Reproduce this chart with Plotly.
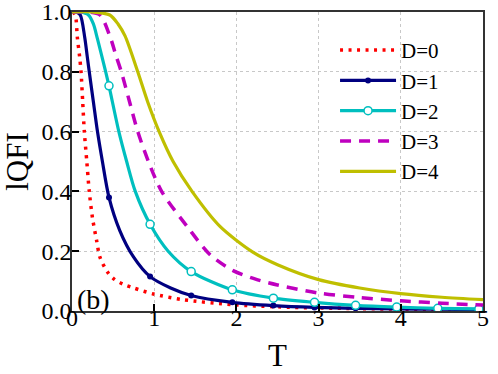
import plotly.graph_objects as go

# ---- data ----
d0_T = [0.01, 0.04, 0.065, 0.093, 0.11, 0.13, 0.15, 0.18, 0.21, 0.25, 0.30, 0.34, 0.44, 0.52, 0.62, 0.75, 0.99, 1.35, 1.96, 2.5, 3.0, 3.5, 4.0, 4.5, 5.0]
d0_v = [1.0, 0.99, 0.915, 0.85, 0.80, 0.70, 0.60, 0.50, 0.40, 0.31, 0.235, 0.18, 0.127, 0.105, 0.09, 0.077, 0.057, 0.038, 0.021, 0.014, 0.010, 0.008, 0.006, 0.005, 0.004]

d1_T = [0.0, 0.05, 0.10, 0.155, 0.186, 0.21, 0.26, 0.31, 0.37, 0.45, 0.58, 0.75, 0.95, 1.2, 1.45, 1.95, 2.45, 2.95, 3.45, 3.95, 4.45, 4.95, 5.0]
d1_v = [1.0, 1.0, 0.99, 0.915, 0.85, 0.80, 0.70, 0.60, 0.50, 0.38, 0.27, 0.18, 0.115, 0.077, 0.052, 0.029, 0.018, 0.012, 0.009, 0.007, 0.006, 0.005, 0.005]

d2_T = [0.0, 0.10, 0.20, 0.26, 0.31, 0.41, 0.45, 0.57, 0.665, 0.77, 0.95, 1.17, 1.45, 1.95, 2.45, 2.95, 3.45, 3.95, 4.45, 4.95, 5.0]
d2_v = [1.0, 1.0, 0.99, 0.96, 0.91, 0.80, 0.753, 0.60, 0.50, 0.40, 0.29, 0.20, 0.132, 0.071, 0.043, 0.029, 0.019, 0.013, 0.009, 0.007, 0.007]

d3_T = [0.0, 0.20, 0.34, 0.46, 0.54, 0.60, 0.70, 0.80, 0.93, 1.09, 1.40, 1.68, 1.96, 2.25, 2.5, 3.0, 3.5, 4.0, 4.5, 5.0]
d3_v = [1.0, 1.0, 0.99, 0.92, 0.85, 0.80, 0.70, 0.60, 0.50, 0.40, 0.283, 0.188, 0.135, 0.105, 0.087, 0.06, 0.045, 0.034, 0.026, 0.02]

d4_T = [0.0, 0.25, 0.46, 0.56, 0.645, 0.80, 0.92, 1.06, 1.23, 1.46, 1.80, 2.2, 2.5, 3.0, 3.5, 4.0, 4.5, 5.0]
d4_v = [1.0, 1.0, 0.99, 0.96, 0.92, 0.80, 0.70, 0.60, 0.50, 0.40, 0.283, 0.197, 0.155, 0.105, 0.077, 0.058, 0.046, 0.038]

marker_T = [0.45, 0.95, 1.45, 1.95, 2.45, 2.95, 3.45, 3.95, 4.45, 4.95]

labels = ["D=0", "D=1", "D=2", "D=3", "D=4"]
x_ticks = [0, 1, 2, 3, 4, 5]
y_ticks = [0.0, 0.2, 0.4, 0.6, 0.8, 1.0]

FONT = "Liberation Serif"
C_RED, C_NAVY, C_CYAN, C_MAG, C_OLIVE = "#ff0000", "#000080", "#00bfbf", "#bf00bf", "#bfbf00"
fig = go.Figure()

def pick(T, v):
    xs, ys = [], []
    for t, val in zip(T, v):
        if any(abs(t - m) < 1e-9 for m in marker_T):
            xs.append(t); ys.append(val)
    return xs, ys

# D=0
fig.add_trace(go.Scatter(x=d0_T, y=d0_v, mode="lines", name=labels[0],
                         line=dict(color=C_RED, width=3.5, dash="3px,5.5px", shape="spline", smoothing=0.8)))
# D=1
fig.add_trace(go.Scatter(x=d1_T, y=d1_v, mode="lines", showlegend=False,
                         line=dict(color=C_NAVY, width=3.2, shape="spline", smoothing=0.8)))
mx, my = pick(d1_T, d1_v)
fig.add_trace(go.Scatter(x=mx, y=my, mode="markers", showlegend=False,
                         marker=dict(color=C_NAVY, size=6)))
fig.add_trace(go.Scatter(x=[None], y=[None], mode="lines+markers", name=labels[1],
                         line=dict(color=C_NAVY, width=3.2), marker=dict(color=C_NAVY, size=6)))
# D=2
fig.add_trace(go.Scatter(x=d2_T, y=d2_v, mode="lines", showlegend=False,
                         line=dict(color=C_CYAN, width=3.2, shape="spline", smoothing=0.8)))
mx, my = pick(d2_T, d2_v)
fig.add_trace(go.Scatter(x=mx, y=my, mode="markers", showlegend=False,
                         marker=dict(color="white", size=8, line=dict(color=C_CYAN, width=1.5))))
fig.add_trace(go.Scatter(x=[None], y=[None], mode="lines+markers", name=labels[2],
                         line=dict(color=C_CYAN, width=3.2),
                         marker=dict(color="white", size=8, line=dict(color=C_CYAN, width=1.5))))
# D=3
fig.add_trace(go.Scatter(x=d3_T, y=d3_v, mode="lines", name=labels[3],
                         line=dict(color=C_MAG, width=3.5, dash="11px,8px", shape="spline", smoothing=0.8)))
# D=4
fig.add_trace(go.Scatter(x=d4_T, y=d4_v, mode="lines", name=labels[4],
                         line=dict(color=C_OLIVE, width=3.2, shape="spline", smoothing=0.8)))

fig.add_annotation(text="(b)", x=0.0, y=0.0, xref="paper", yref="paper",
                   xanchor="left", yanchor="bottom", showarrow=False, xshift=3, yshift=-6,
                   font=dict(family=FONT, size=28, color="black"))

fig.update_layout(
    width=498, height=374,
    margin=dict(l=72, r=15, t=12, b=63, autoexpand=False),
    paper_bgcolor="white", plot_bgcolor="white",
    font=dict(family=FONT, size=22, color="black"),
    legend=dict(x=0.64, y=0.94, xanchor="left", yanchor="top",
                bgcolor="rgba(0,0,0,0)", borderwidth=0,
                font=dict(family=FONT, size=21, color="black"), itemwidth=56),
)
axis_common = dict(ticks="inside", ticklen=7, tickwidth=1.5, tickcolor="black",
                   showline=True, linecolor="#333333", linewidth=1.5, mirror=True,
                   showgrid=True, gridcolor="#c8c8c8", griddash="dot", gridwidth=1,
                   zeroline=False, automargin=False, ticklabeloverflow="allow",
                   tickfont=dict(family=FONT, size=24, color="black"))
fig.update_xaxes(range=[0, 5], tickvals=x_ticks, ticktext=[str(v) for v in x_ticks],
                 ticklabelstandoff=-16,
                 title=dict(text="T", font=dict(family=FONT, size=31), standoff=15),
                 **axis_common)
fig.update_yaxes(range=[0, 1], tickvals=y_ticks, ticktext=[f"{v:.1f}" for v in y_ticks],
                 ticklabelstandoff=-6,
                 title=dict(text="lQFI", font=dict(family=FONT, size=31), standoff=13),
                 **axis_common)

fig.write_html("out.html", post_script="document.body.style.margin='0';",
               config={"displayModeBar": False})
